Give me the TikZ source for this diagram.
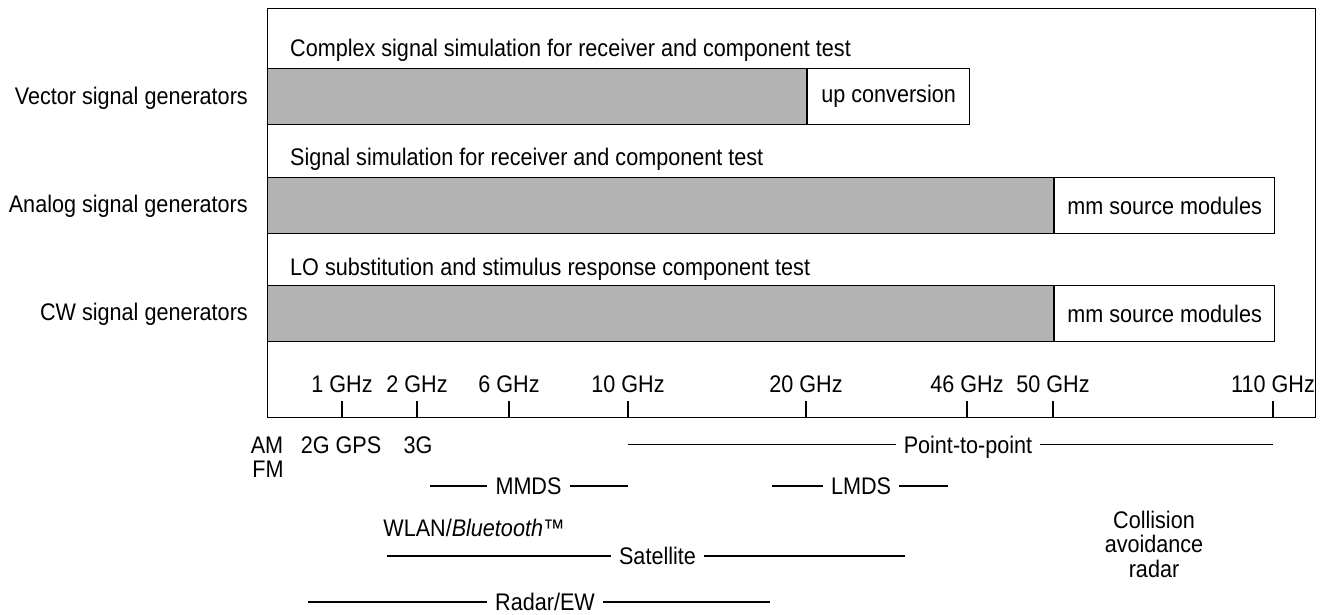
\documentclass[tikz,border=0pt]{standalone}
\usepackage{fontspec}
\setmainfont{Liberation Sans}[FakeStretch=0.9]
\definecolor{barGray}{RGB}{179,179,179}
\begin{document}
\begin{tikzpicture}[x=1pt,y=-1pt,
  every node/.style={font=\fontsize{24}{24.5}\selectfont, inner sep=0pt},
  frame/.style={draw, line width=1.4pt, minimum width=1048pt, minimum height=409pt, anchor=north west},
  graybar/.style={draw, fill=barGray, line width=1.1pt, minimum height=56pt, anchor=north west},
  whitebox/.style={draw, fill=white, line width=1.1pt, minimum height=56pt, anchor=north west},
  tickmark/.style={line width=1.1pt},
  bandline/.style={line width=1.1pt},
  bandlbl/.style={inner xsep=8pt, anchor=base},
  txt/.style={anchor=base},
  rowlbl/.style={anchor=base east},
  ttl/.style={anchor=base west},
]
\useasboundingbox (0,0) rectangle (1322,614);

% frame
\node[frame] (frame) at (267,8) {};

% bars
\node[graybar, minimum width=539pt] (vbar) at (267,68) {};
\node[whitebox, minimum width=162pt] (vext) at (vbar.north east) {up conversion};
\node[graybar, minimum width=786pt] (abar) at (267,177) {};
\node[whitebox, minimum width=220pt] (aext) at (abar.north east) {mm source modules};
\node[graybar, minimum width=786pt] (cbar) at (267,285) {};
\node[whitebox, minimum width=220pt] (cext) at (cbar.north east) {mm source modules};

% titles
\node[ttl] (vttl) at (290,56) {Complex signal simulation for receiver and component test};
\node[ttl] (attl) at (290,165) {Signal simulation for receiver and component test};
\node[ttl] (cttl) at (290,275) {LO substitution and stimulus response component test};

% row labels
\node[rowlbl] (vlbl) at (248,104) {Vector signal generators};
\node[rowlbl] (albl) at (248,212.5) {Analog signal generators};
\node[rowlbl] (clbl) at (248,320) {CW signal generators};

% ticks
\foreach \x/\t [count=\i] in {342/1 GHz, 417/2 GHz, 509/6 GHz, 628/10 GHz, 806/20 GHz, 967/46 GHz, 1053/50 GHz, 1273/110 GHz}{
  \coordinate (tk\i) at (\x,417);
  \draw[tickmark] (tk\i) -- ++(0,-16);
  \node[txt] (tl\i) at (\x,392) {\t};
}

% band labels
\node[txt] (am) at (267,453) {AM};
\node[txt] (fm) at (268,477) {FM};
\node[txt] (gps) at (341,453) {2G GPS};
\node[txt] (g3) at (418,453) {3G};
\node[txt] (wlan) at (474,536) {WLAN/\textit{Bluetooth}™};
\node[align=center] (car) at (1154,544) {Collision\\avoidance\\radar};

% Point-to-point
\node[bandlbl] (ptp) at (968,453) {Point-to-point};
\coordinate (ptpL) at (628,444.5);
\coordinate (ptpR) at (1273,444.5);
\draw[bandline] (ptpL) -- (ptpL -| ptp.west);
\draw[bandline] (ptp.east |- ptpR) -- (ptpR);

% MMDS
\node[bandlbl] (mmds) at (528.5,494.5) {MMDS};
\coordinate (mmdsL) at (430,486);
\coordinate (mmdsR) at (628,486);
\draw[bandline] (mmdsL) -- (mmdsL -| mmds.west);
\draw[bandline] (mmds.east |- mmdsR) -- (mmdsR);

% LMDS
\node[bandlbl] (lmds) at (861,494.5) {LMDS};
\coordinate (lmdsL) at (772,486);
\coordinate (lmdsR) at (948,486);
\draw[bandline] (lmdsL) -- (lmdsL -| lmds.west);
\draw[bandline] (lmds.east |- lmdsR) -- (lmdsR);

% Satellite
\node[bandlbl] (sat) at (657.5,564.5) {Satellite};
\coordinate (satL) at (387,556);
\coordinate (satR) at (905,556);
\draw[bandline] (satL) -- (satL -| sat.west);
\draw[bandline] (sat.east |- satR) -- (satR);

% Radar/EW
\node[bandlbl] (rad) at (545,610) {Radar/EW};
\coordinate (radL) at (308,602);
\coordinate (radR) at (770,602);
\draw[bandline] (radL) -- (radL -| rad.west);
\draw[bandline] (rad.east |- radR) -- (radR);
\end{tikzpicture}
\end{document}
